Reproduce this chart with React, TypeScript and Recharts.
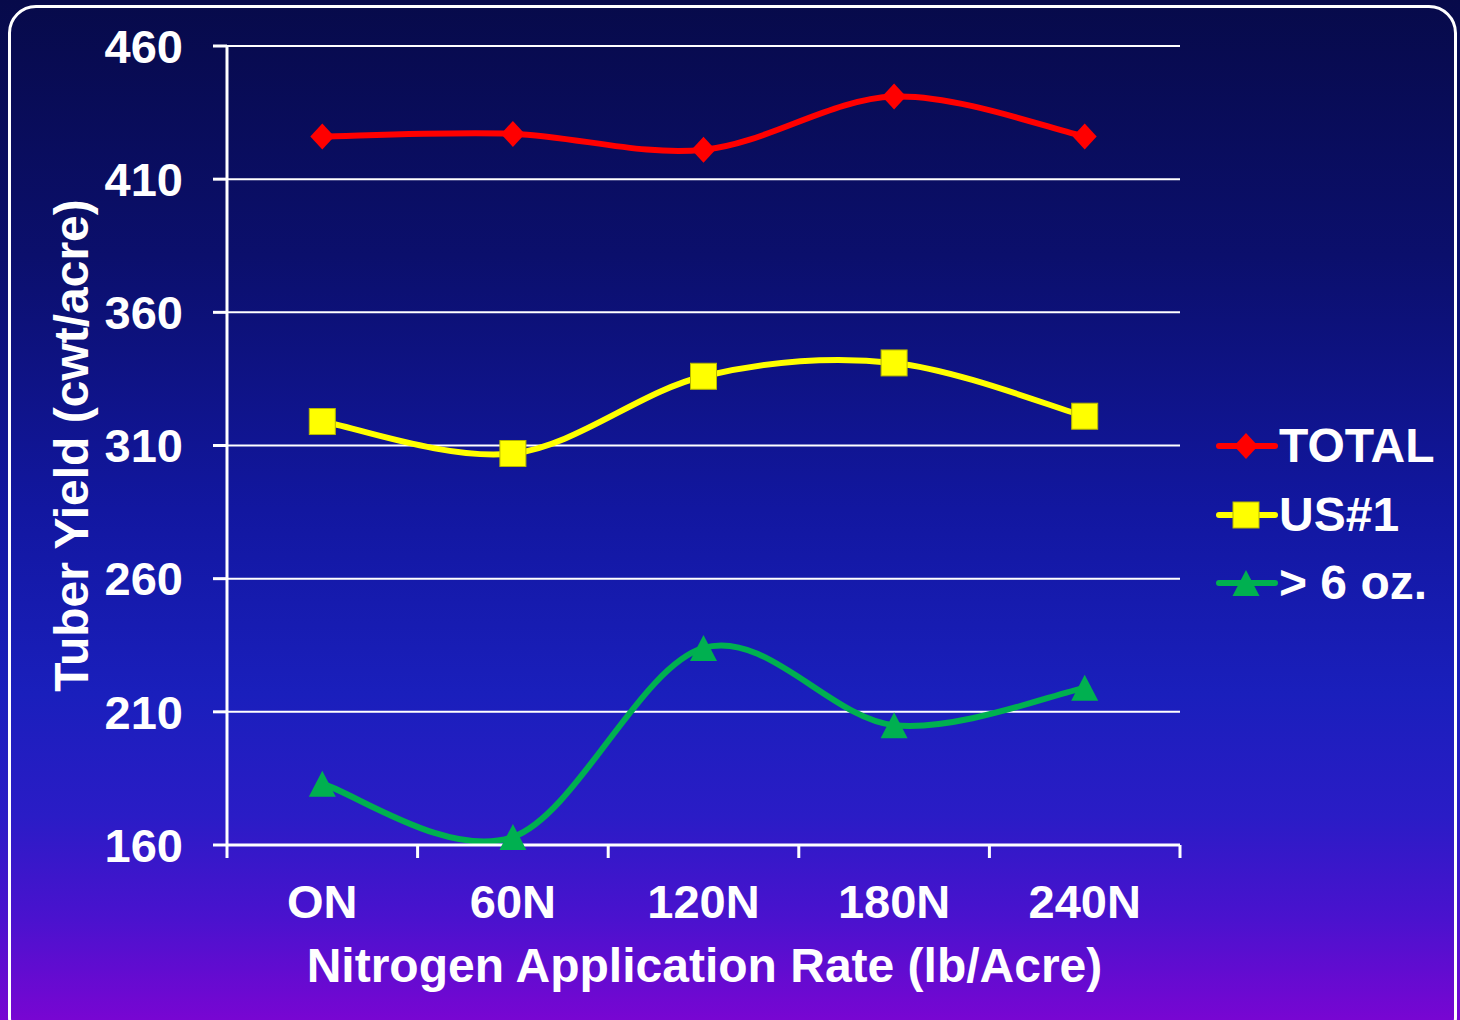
import React from 'react';
import { LineChart, Line, XAxis, YAxis, CartesianGrid, Legend } from 'recharts';

const categories = ['ON', '60N', '120N', '180N', '240N'];
const totalYield = [426, 427, 421, 441, 426];
const us1Yield = [319, 307, 336, 341, 321];
const over6oz = [183, 163, 234, 205, 219];
const yTicks = [160, 210, 260, 310, 360, 410, 460];
const xBounds = [0, 1, 2, 3, 4, 5];

const FONT = '"Liberation Sans", Arial, Helvetica, sans-serif';
const W = 1460;
const H = 1020;
const PLOT_LEFT = 227;
const PLOT_RIGHT = 280;
const BAND = (W - PLOT_LEFT - PLOT_RIGHT) / categories.length;

const series = [
  { key: 'total', name: 'TOTAL', color: '#ff0000', shape: 'diamond', values: totalYield },
  { key: 'us1', name: 'US#1', color: '#ffff00', shape: 'square', values: us1Yield },
  { key: 'big', name: '> 6 oz.', color: '#00b050', shape: 'triangle', values: over6oz },
];

const data = categories.map((c, i) => ({
  x: i + 0.5,
  name: c,
  total: totalYield[i],
  us1: us1Yield[i],
  big: over6oz[i],
}));

// Excel-like smoothed line (Catmull-Rom through the points)
function smoothCurve(context: any) {
  let pts: [number, number][] = [];
  return {
    areaStart() {},
    areaEnd() {},
    lineStart() {
      pts = [];
    },
    point(x: number, y: number) {
      pts.push([+x, +y]);
    },
    lineEnd() {
      if (!pts.length) return;
      context.moveTo(pts[0][0], pts[0][1]);
      for (let i = 0; i < pts.length - 1; i++) {
        const p0 = pts[Math.max(i - 1, 0)];
        const p1 = pts[i];
        const p2 = pts[i + 1];
        const p3 = pts[Math.min(i + 2, pts.length - 1)];
        context.bezierCurveTo(
          p1[0] + (p2[0] - p0[0]) / 6,
          p1[1] + (p2[1] - p0[1]) / 6,
          p2[0] - (p3[0] - p1[0]) / 6,
          p2[1] - (p3[1] - p1[1]) / 6,
          p2[0],
          p2[1]
        );
      }
    },
  };
}

function Marker({ shape, cx, cy, color }: { shape: string; cx: number; cy: number; color: string }) {
  if (shape === 'diamond') {
    return <polygon points={`${cx},${cy - 13} ${cx + 12},${cy} ${cx},${cy + 13} ${cx - 12},${cy}`} fill={color} />;
  }
  if (shape === 'square') {
    return <rect x={cx - 13} y={cy - 13} width={26} height={26} fill={color} stroke="#b8b800" strokeWidth={1} />;
  }
  return <polygon points={`${cx},${cy - 13} ${cx + 13.5},${cy + 13} ${cx - 13.5},${cy + 13}`} fill={color} />;
}

function XTick(props: any) {
  const { x, y, payload } = props;
  const label = categories[payload.value];
  if (!label) return null;
  return (
    <text x={x + BAND / 2} y={y} dy="0.71em" textAnchor="middle" fill="#fff" fontSize={47} fontWeight="bold" fontFamily={FONT}>
      {label}
    </text>
  );
}

function XTitle(props: any) {
  const vb = props.viewBox || { x: PLOT_LEFT, y: 845, width: W - PLOT_LEFT - PLOT_RIGHT };
  return (
    <text x={vb.x + vb.width / 2 + 1} y={vb.y + 137} textAnchor="middle" fill="#fff" fontSize={48} fontWeight="bold" fontFamily={FONT}>
      Nitrogen Application Rate (lb/Acre)
    </text>
  );
}

function YTitle(props: any) {
  const vb = props.viewBox || { x: 0, y: 46, height: 799 };
  const cx = vb.x + 88;
  const cy = vb.y + vb.height / 2;
  return (
    <text x={cx} y={cy} transform={`rotate(-90, ${cx}, ${cy})`} textAnchor="middle" fill="#fff" fontSize={48} fontWeight="bold" fontFamily={FONT}>
      Tuber Yield (cwt/acre)
    </text>
  );
}

function LegendBox() {
  return (
    <div style={{ fontFamily: FONT, fontWeight: 'bold', fontSize: 48, color: '#fff' }}>
      {series.map((s) => (
        <div key={s.key} style={{ display: 'flex', alignItems: 'center', height: 68.5 }}>
          <svg width={62} height={40} style={{ display: 'block' }}>
            <line x1={3} y1={20} x2={59} y2={20} stroke={s.color} strokeWidth={6} strokeLinecap="round" />
            <Marker shape={s.shape} cx={30} cy={20} color={s.color} />
          </svg>
          <span style={{ marginLeft: 1, lineHeight: 1, whiteSpace: 'pre' }}>{s.name}</span>
        </div>
      ))}
    </div>
  );
}

export default function App() {
  return (
    <div
      style={{
        position: 'relative',
        width: W,
        height: H,
        overflow: 'hidden',
        background:
          'linear-gradient(to bottom, #070a4a 0%, #0b0f6c 25%, #1217a0 50%, #1a1fbc 68%, #2a1cc6 80%, #4a12ce 90%, #7806d2 100%)',
      }}
    >
      <style>{'html,body{margin:0;padding:0;background:#070a4a}'}</style>
      <div
        style={{
          position: 'absolute',
          left: 8,
          top: 5,
          width: W - 11,
          height: H + 20,
          border: '3px solid #fff',
          borderRadius: 28,
          boxSizing: 'border-box',
        }}
      />
      <div style={{ position: 'absolute', left: 0, top: 0 }}>
        <LineChart width={W} height={H} data={data} margin={{ top: 46, right: PLOT_RIGHT, bottom: 0, left: 0 }}>
          <CartesianGrid vertical={false} stroke="#ffffff" strokeWidth={2} />
          <XAxis
            dataKey="x"
            type="number"
            domain={[0, 5]}
            ticks={xBounds}
            interval={0}
            height={175}
            tickSize={13}
            tickMargin={27}
            axisLine={{ stroke: '#fff', strokeWidth: 3 }}
            tickLine={{ stroke: '#fff', strokeWidth: 3 }}
            tick={<XTick />}
            label={<XTitle />}
          />
          <YAxis
            type="number"
            domain={[160, 460]}
            ticks={yTicks}
            interval={0}
            width={PLOT_LEFT}
            tickSize={14}
            tickMargin={30}
            axisLine={{ stroke: '#fff', strokeWidth: 3 }}
            tickLine={{ stroke: '#fff', strokeWidth: 3 }}
            tick={{ fill: '#fff', fontSize: 47, fontWeight: 'bold', fontFamily: FONT }}
            label={<YTitle />}
          />
          <Legend
            layout="horizontal"
            align="center"
            verticalAlign="middle"
            content={() => <LegendBox />}
            wrapperStyle={{ position: 'absolute', left: 1216, top: 412, width: 244, height: 210 }}
          />
          {series.map((s) => (
            <Line
              key={s.key}
              dataKey={s.key}
              name={s.name}
              type={smoothCurve as any}
              stroke={s.color}
              strokeWidth={6}
              isAnimationActive={false}
              activeDot={false}
              dot={(p: any) => <Marker key={`${s.key}-${p.index}`} shape={s.shape} cx={p.cx} cy={p.cy} color={s.color} />}
            />
          ))}
        </LineChart>
      </div>
    </div>
  );
}
